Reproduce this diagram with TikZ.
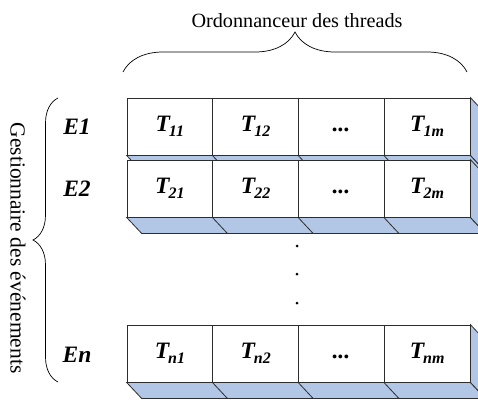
\documentclass[tikz,border=0pt]{standalone}
\usepackage{fontspec}
\setmainfont{Liberation Serif}
\usetikzlibrary{positioning,calc,backgrounds,decorations.pathreplacing}
\definecolor{depthblue}{RGB}{178,198,230}
\definecolor{edgegray}{RGB}{45,45,45}
\newcommand{\Tsub}[1]{T\kern-1pt\raisebox{-0.22em}{\fontsize{16}{16}\selectfont #1}}
\newcommand{\Tdots}{\vphantom{\Tsub{1}}...}

\begin{document}
\begin{tikzpicture}[
  x=1pt,y=-1pt,
  cell/.style={draw=edgegray,line width=0.8pt,fill=white,minimum width=85.75pt,minimum height=57pt,inner sep=0pt,font=\fontsize{23.5}{26}\selectfont\bfseries\itshape},
  face/.style={draw=edgegray,line width=0.8pt,fill=depthblue},
  tick/.style={draw=edgegray,line width=0.8pt},
  evt/.style={font=\fontsize{23.5}{26}\selectfont\bfseries\itshape},
  lbl/.style={font=\fontsize{20.2}{23}\selectfont},
  brc/.style={decorate,decoration={brace,amplitude=#1},line width=0.7pt},
  dotmark/.style={circle,fill=black,inner sep=0pt,minimum size=3pt}
]
\useasboundingbox (0,0) rectangle (478,399);
\clip (0,0) rectangle (478,399);

% Row 1
\node[cell] (t11) at (169.875,126.5) {\Tsub{11}};
\node[cell] (t12) at (255.625,126.5) {\Tsub{12}};
\node[cell] (t1x) at (341.375,126.5) {\Tdots};
\node[cell] (t1m) at (427.125,126.5) {\Tsub{1m}};
\begin{scope}[on background layer]
\draw[face] (t11.south west) -- (t1m.south east) -- ++(15,16) -- ($(t11.south west)+(15,16)$) -- cycle;
\draw[face] (t1m.north east) -- ++(15,16) -- ($(t1m.south east)+(15,16)$) -- (t1m.south east) -- cycle;
\draw[tick] (t12.south west) -- ++(15,16) (t1x.south west) -- ++(15,16) (t1m.south west) -- ++(15,16);
\end{scope}

% Row 2
\node[cell] (t21) at (169.875,188.5) {\Tsub{21}};
\node[cell] (t22) at (255.625,188.5) {\Tsub{22}};
\node[cell] (t2x) at (341.375,188.5) {\Tdots};
\node[cell] (t2m) at (427.125,188.5) {\Tsub{2m}};
\begin{scope}[on background layer]
\draw[face] (t21.south west) -- (t2m.south east) -- ++(15,16) -- ($(t21.south west)+(15,16)$) -- cycle;
\draw[face] (t2m.north east) -- ++(15,16) -- ($(t2m.south east)+(15,16)$) -- (t2m.south east) -- cycle;
\draw[tick] (t22.south west) -- ++(15,16) (t2x.south west) -- ++(15,16) (t2m.south west) -- ++(15,16);
\end{scope}

% vertical ellipsis
\node[dotmark] (dot1) at (297,246) {};
\node[dotmark] (dot2) at (297,274) {};
\node[dotmark] (dot3) at (297,303) {};

% Row n
\node[cell] (tn1) at (169.875,353.5) {\Tsub{n1}};
\node[cell] (tn2) at (255.625,353.5) {\Tsub{n2}};
\node[cell] (tnx) at (341.375,353.5) {\Tdots};
\node[cell] (tnm) at (427.125,353.5) {\Tsub{nm}};
\begin{scope}[on background layer]
\draw[face] (tn1.south west) -- (tnm.south east) -- ++(15,16) -- ($(tn1.south west)+(15,16)$) -- cycle;
\draw[face] (tnm.north east) -- ++(15,16) -- ($(tnm.south east)+(15,16)$) -- (tnm.south east) -- cycle;
\draw[tick] (tn2.south west) -- ++(15,16) (tnx.south west) -- ++(15,16) (tnm.south west) -- ++(15,16);
\end{scope}

% event labels
\node[evt] (e1) at (77,126.5) {E1};
\node[evt] (e2) at (77,188.5) {E2};
\node[evt] (en) at (77,355) {En};

% scheduler brace (top)
\coordinate (tl) at (123,72);
\coordinate (tr) at (467,72);
\draw[brc=40pt] (tl) -- (tr);
\node[lbl,anchor=base] (sched) at (297,27) {Ordonnanceur des threads};

% event manager brace (left)
\coordinate (lb) at (58,382);
\coordinate (lt) at (58,98);
\draw[brc=25pt] (lb) -- (lt);
\node[lbl,font=\fontsize{21.5}{24}\selectfont,rotate=-90] (evmgr) at (18,248) {Gestionnaire des événements};
\end{tikzpicture}
\end{document}
